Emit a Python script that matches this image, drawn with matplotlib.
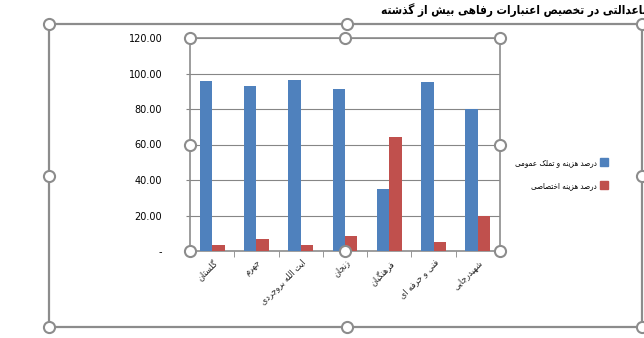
import matplotlib
matplotlib.use("Agg")
import matplotlib.pyplot as plt
from matplotlib.lines import Line2D
import numpy as np

# Data
categories = ["گلستان", "جهرم", "ایت الله بروجردی", "زنجان", "فرهنگیان", "فنی و حرفه ای", "شهیدرجایی"]
public_share = [95.8, 93.1, 96.4, 91.4, 35.0, 95.2, 80.2]   # درصد هزینه و تملک عمومی
special_share = [3.4, 6.9, 3.4, 8.6, 64.4, 4.8, 19.8]      # درصد هزینه اختصاصی
series_names = ["درصد هزینه و تملک عمومی", "درصد هزینه اختصاصی"]
y_ticks = [0, 20, 40, 60, 80, 100, 120]
y_tick_labels = ["-", "20.00", "40.00", "60.00", "80.00", "100.00", "120.00"]
title = "ناعدالتی در تخصیص اعتبارات رفاهی بیش از گذشته"

# matplotlib has no Arabic shaping, so pick contextual forms by hand
# (isolated, final, initial, medial); None = letter does not join forward
FORMS = {
    "ا": (0xFE8D, 0xFE8E, None, None), "آ": (0xFE81, 0xFE82, None, None),
    "ب": (0xFE8F, 0xFE90, 0xFE91, 0xFE92), "پ": (0xFB56, 0xFB57, 0xFB58, 0xFB59),
    "ت": (0xFE95, 0xFE96, 0xFE97, 0xFE98), "ث": (0xFE99, 0xFE9A, 0xFE9B, 0xFE9C),
    "ج": (0xFE9D, 0xFE9E, 0xFE9F, 0xFEA0), "چ": (0xFB7A, 0xFB7B, 0xFB7C, 0xFB7D),
    "ح": (0xFEA1, 0xFEA2, 0xFEA3, 0xFEA4), "خ": (0xFEA5, 0xFEA6, 0xFEA7, 0xFEA8),
    "د": (0xFEA9, 0xFEAA, None, None), "ذ": (0xFEAB, 0xFEAC, None, None),
    "ر": (0xFEAD, 0xFEAE, None, None), "ز": (0xFEAF, 0xFEB0, None, None),
    "ژ": (0xFB8A, 0xFB8B, None, None),
    "س": (0xFEB1, 0xFEB2, 0xFEB3, 0xFEB4), "ش": (0xFEB5, 0xFEB6, 0xFEB7, 0xFEB8),
    "ص": (0xFEB9, 0xFEBA, 0xFEBB, 0xFEBC), "ض": (0xFEBD, 0xFEBE, 0xFEBF, 0xFEC0),
    "ط": (0xFEC1, 0xFEC2, 0xFEC3, 0xFEC4), "ظ": (0xFEC5, 0xFEC6, 0xFEC7, 0xFEC8),
    "ع": (0xFEC9, 0xFECA, 0xFECB, 0xFECC), "غ": (0xFECD, 0xFECE, 0xFECF, 0xFED0),
    "ف": (0xFED1, 0xFED2, 0xFED3, 0xFED4), "ق": (0xFED5, 0xFED6, 0xFED7, 0xFED8),
    "ک": (0xFB8E, 0xFB8F, 0xFB90, 0xFB91), "گ": (0xFB92, 0xFB93, 0xFB94, 0xFB95),
    "ل": (0xFEDD, 0xFEDE, 0xFEDF, 0xFEE0), "م": (0xFEE1, 0xFEE2, 0xFEE3, 0xFEE4),
    "ن": (0xFEE5, 0xFEE6, 0xFEE7, 0xFEE8), "و": (0xFEED, 0xFEEE, None, None),
    "ه": (0xFEE9, 0xFEEA, 0xFEEB, 0xFEEC), "ی": (0xFBFC, 0xFBFD, 0xFBFE, 0xFBFF),
}


def shape(text):
    chars = list(text)
    n = len(chars)
    out = []
    i = 0
    while i < n:
        c = chars[i]
        if c == "\u200c":
            i += 1
            continue
        if c not in FORMS:
            out.append(c)
            i += 1
            continue
        prev = chars[i - 1] if i > 0 else ""
        link_prev = prev in FORMS and FORMS[prev][2] is not None
        nxt = chars[i + 1] if i + 1 < n else ""
        if c == "ل" and nxt in ("ا", "آ"):
            out.append(chr(0xFEFC if link_prev else 0xFEFB))
            i += 2
            continue
        link_next = FORMS[c][2] is not None and nxt in FORMS
        iso, fin, ini, med = FORMS[c]
        if link_prev and link_next:
            g = med
        elif link_prev:
            g = fin
        elif link_next:
            g = ini
        else:
            g = iso
        out.append(chr(g))
        i += 1
    return "".join(reversed(out))


W, H = 644, 338
frame_gray = "#8c8c8c"
plt.rcParams["font.family"] = ["DejaVu Sans"]
fa = dict(family="DejaVu Sans", stretch="condensed")

fig = plt.figure(figsize=(W / 100, H / 100), dpi=100)
ax = fig.add_axes([190 / W, 1 - 251 / H, 310 / W, 213 / H])

x = np.arange(len(categories))
w = 0.28
ax.bar(x - w / 2, public_share, w, color="#4F81BD", label=series_names[0], zorder=3)
ax.bar(x + w / 2, special_share, w, color="#C0504D", label=series_names[1], zorder=3)

ax.set_xlim(-0.5, len(categories) - 0.5)
ax.set_ylim(0, 120)
ax.set_yticks(y_ticks, y_tick_labels, fontsize=7)
ax.yaxis.grid(True, color="#868686", lw=0.8, zorder=0)
ax.tick_params(axis="y", length=3, color="#868686", pad=17)

ax.set_xticks(x, [shape(c) for c in categories], rotation=45, ha="right",
              rotation_mode="anchor", fontsize=6.5, color="#222222", **fa)
ax.tick_params(axis="x", length=0, pad=5)
ax.set_xticks(np.arange(len(categories) + 1) - 0.5, minor=True)
ax.tick_params(axis="x", which="minor", length=4, color="#868686")

for s in ax.spines.values():
    s.set_color(frame_gray)
    s.set_linewidth(1.2)

# selection handles of the plot area
hx = [0, 0.5, 1, 0, 1, 0, 0.5, 1]
hy = [0, 0, 0, 0.5, 0.5, 1, 1, 1]
ax.plot(hx, hy, "o", transform=ax.transAxes, ms=8, mfc="white", mec=frame_gray,
        mew=1.5, clip_on=False, zorder=10)

# outer chart frame with handles
L, R, T, B = 49 / W, 642 / W, 1 - 24 / H, 1 - 327 / H
fig.add_artist(Line2D([L, R, R, L, L], [T, T, B, B, T], transform=fig.transFigure,
                      color=frame_gray, lw=1.6))
mx, my = (L + R) / 2 + 0.003, (T + B) / 2
fig.add_artist(Line2D([L, mx, R, L, R, L, mx, R], [T, T, T, my, my, B, B, B],
                      transform=fig.transFigure, ls="none", marker="o", ms=8,
                      mfc="white", mec=frame_gray, mew=1.5))

# legend, marker on the right (RTL)
handles = [Line2D([], [], ls="none", marker="s", ms=5.5, color=c) for c in ("#4F81BD", "#C0504D")]
fig.legend(handles, [shape(s) for s in series_names], loc="center left",
           bbox_to_anchor=(508 / W, 1 - 174 / H), frameon=False,
           prop=dict(size=5.8, **fa), markerfirst=False, handlelength=0.8,
           handletextpad=0.4, labelspacing=1.8)

fig.text(381 / W, 1 - 10 / H, shape(title), fontsize=8.5, fontweight="bold",
         ha="left", va="center", **fa)

fig.savefig("out.png", dpi=100)
